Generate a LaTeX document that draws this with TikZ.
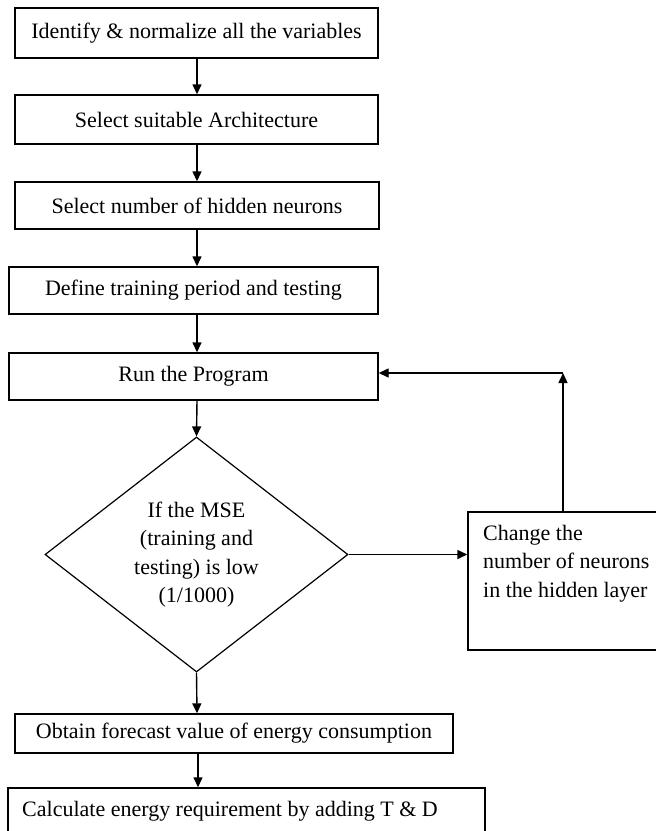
\documentclass[tikz,border=0pt]{standalone}
\usepackage{fontspec}
\setmainfont{Liberation Serif}
\usetikzlibrary{shapes.geometric,arrows.meta}
\begin{document}
\begin{tikzpicture}[x=1pt,y=-1pt,
  every node/.style={font=\fontsize{22}{28.5}\selectfont},
  box/.style={draw, line width=1.4pt, rectangle, inner sep=0pt},
  decision/.style={draw, line width=1.2pt, diamond, shape aspect=1.29,
    inner sep=0pt, minimum width=303pt, minimum height=235pt, align=center},
  txt/.style={inner sep=0pt, align=left},
  arr/.style={line width=1.4pt, -{Triangle[length=10pt,width=9pt]}},
  ln/.style={line width=1.4pt}]

% page
\fill[white] (0,0) rectangle (656,831);
\useasboundingbox (0,0) rectangle (656,831);

% main column of steps
\node[box, minimum width=363pt, minimum height=50pt] (b1) at (196.5,33)
  {Identify \& normalize all the variables};
\node[box, minimum width=363pt, minimum height=49pt] (b2) at (196.5,119.5)
  {Select suitable Architecture};
\node[box, minimum width=364pt, minimum height=47pt] (b3) at (197,205.5)
  {Select number of hidden neurons};
\node[box, minimum width=369pt, minimum height=47pt] (b4) at (193.5,290.5)
  {Define training period and testing};
\node[box, minimum width=369pt, minimum height=47pt] (b5) at (193.5,376.5)
  {Run the Program};
\node[decision] (dec) at (196.5,554.5)
  {If the MSE\\(training and\\testing) is low\\(1/1000)};
\node[box, minimum width=438pt, minimum height=39pt] (b6) at (234,733.5)
  {Obtain forecast value of energy consumption};
\node[box, minimum width=477pt, minimum height=57pt] (b7) at (246.5,816.5) {};
\node[txt, anchor=base west] (b7t) at (22,816)
  {Calculate energy requirement by adding T \& D};

% side box
\node[box, minimum width=192pt, minimum height=138pt] (chg) at (564,581) {};
\node[txt, anchor=north west] (chgt) at (483,525)
  {Change the\\number of neurons\\in the hidden layer};

% connectors
\coordinate (ax) at (197,0);
\coordinate (bx) at (198,0);
\coordinate (lp) at (563,373);
\draw[arr] (ax |- b1.south) -- (ax |- b2.north);
\draw[arr] (ax |- b2.south) -- (ax |- b3.north);
\draw[arr] (ax |- b3.south) -- (ax |- b4.north);
\draw[arr] (ax |- b4.south) -- (ax |- b5.north);
\draw[arr] (ax |- b5.south) -- (dec.north);
\draw[arr] (dec.south) -- (ax |- b6.north);
\draw[arr] (bx |- b6.south) -- (bx |- b7.north);
\draw[arr] (dec.east) -- (dec.east -| chg.west);
\draw[arr] (chg.north -| lp) -- (lp);
\draw[arr] (lp) -- (lp -| b5.east);
\end{tikzpicture}
\end{document}
